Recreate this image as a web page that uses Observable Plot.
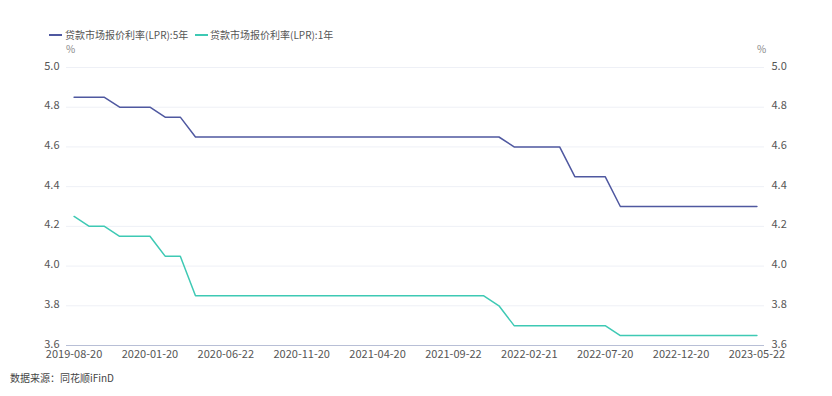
<!DOCTYPE html>
<html>
<head>
<meta charset="utf-8">
<script src="https://cdn.jsdelivr.net/npm/d3@7"></script>
<script src="https://cdn.jsdelivr.net/npm/@observablehq/plot@0.6"></script>
<style>
  html, body { margin: 0; padding: 0; background: #fff; }
  #wrap { position: relative; width: 832px; height: 396px; font-family: "Noto Sans CJK SC", "Noto Sans", sans-serif; color: #555; }
  #head { position: relative; height: 56px; }
  .leg-line { position: absolute; top: 34px; width: 13px; height: 1.5px; }
  .leg-text { position: absolute; top: 28px; font-size: 10px; line-height: 14px; color: #555; white-space: nowrap; }
  .pct { position: absolute; top: 42px; font-size: 10px; line-height: 14px; color: #888; }
  #caption { position: absolute; left: 10px; top: 371px; font-size: 10px; line-height: 14px; color: #444; }
  #chart svg { display: block; }
</style>
</head>
<body>
<div id="wrap">
  <div id="head"></div>
  <div id="chart"></div>
  <div id="caption"></div>
</div>
<script>
const dates = [
  "2019-08-20","2019-09-20","2019-10-21","2019-11-20","2019-12-20",
  "2020-01-20","2020-02-20","2020-03-20","2020-04-20","2020-05-20","2020-06-22","2020-07-20","2020-08-20","2020-09-21","2020-10-20","2020-11-20","2020-12-21",
  "2021-01-20","2021-02-20","2021-03-22","2021-04-20","2021-05-20","2021-06-21","2021-07-20","2021-08-20","2021-09-22","2021-10-20","2021-11-22","2021-12-20",
  "2022-01-20","2022-02-21","2022-03-21","2022-04-20","2022-05-20","2022-06-20","2022-07-20","2022-08-22","2022-09-20","2022-10-20","2022-11-21","2022-12-20",
  "2023-01-20","2023-02-20","2023-03-20","2023-04-20","2023-05-22"
];
const lpr5 = [
  4.85,4.85,4.85,4.80,4.80,
  4.80,4.75,4.75,4.65,4.65,4.65,4.65,4.65,4.65,4.65,4.65,4.65,
  4.65,4.65,4.65,4.65,4.65,4.65,4.65,4.65,4.65,4.65,4.65,4.65,
  4.60,4.60,4.60,4.60,4.45,4.45,4.45,4.30,4.30,4.30,4.30,4.30,
  4.30,4.30,4.30,4.30,4.30
];
const lpr1 = [
  4.25,4.20,4.20,4.15,4.15,
  4.15,4.05,4.05,3.85,3.85,3.85,3.85,3.85,3.85,3.85,3.85,3.85,
  3.85,3.85,3.85,3.85,3.85,3.85,3.85,3.85,3.85,3.85,3.85,3.80,
  3.70,3.70,3.70,3.70,3.70,3.70,3.70,3.65,3.65,3.65,3.65,3.65,
  3.65,3.65,3.65,3.65,3.65
];
const seriesNames = ["贷款市场报价利率(LPR):5年", "贷款市场报价利率(LPR):1年"];
const seriesColors = ["#4f58a0", "#3ec9b4"];
const yTicks = [3.6, 3.8, 4.0, 4.2, 4.4, 4.6, 4.8, 5.0];
const xTicks = ["2019-08-20","2020-01-20","2020-06-22","2020-11-20","2021-04-20","2021-09-22","2022-02-21","2022-07-20","2022-12-20","2023-05-22"];
const unitLabel = "%";
const sourceText = "数据来源：同花顺iFinD";

// legend & units
const headDiv = document.getElementById("head");
const legPos = [{line: 49, text: 65}, {line: 195, text: 210}];
seriesNames.forEach((name, i) => {
  const l = document.createElement("div");
  l.className = "leg-line";
  l.style.left = legPos[i].line + "px";
  l.style.background = seriesColors[i];
  headDiv.appendChild(l);
  const t = document.createElement("div");
  t.className = "leg-text";
  t.style.left = legPos[i].text + "px";
  t.textContent = name;
  headDiv.appendChild(t);
});
[66, 757].forEach(x => {
  const p = document.createElement("div");
  p.className = "pct";
  p.style.left = x + "px";
  p.textContent = unitLabel;
  headDiv.appendChild(p);
});
document.getElementById("caption").textContent = sourceText;

const rows = dates.flatMap((d, i) => [
  {idx: i, value: lpr5[i], series: seriesNames[0]},
  {idx: i, value: lpr1[i], series: seriesNames[1]}
]);
const xTickIdx = xTicks.map(d => dates.indexOf(d));

const chart = Plot.plot({
  width: 832,
  height: 309,
  marginTop: 11,
  marginBottom: 20,
  marginLeft: 66,
  marginRight: 68,
  style: {fontFamily: '"Noto Sans CJK SC", "Noto Sans", sans-serif', fontSize: "11px", color: "#555", background: "#fff"},
  x: {type: "linear", domain: [-0.5, dates.length - 0.5], axis: null},
  y: {domain: [3.6, 5.0], axis: null},
  color: {domain: seriesNames, range: seriesColors},
  marks: [
    Plot.gridY(yTicks.filter(t => t > 3.6), {stroke: "#eef0f6", strokeOpacity: 1}),
    Plot.ruleY([3.6], {stroke: "#b8bfd6", strokeWidth: 1}),
    Plot.axisY(yTicks, {anchor: "left", tickSize: 0, tickPadding: 7, dy: -1.5, tickFormat: d => d.toFixed(1), label: null, fill: "#555"}),
    Plot.axisY(yTicks, {anchor: "right", tickSize: 0, tickPadding: 7, dy: -1.5, tickFormat: d => d.toFixed(1), label: null, fill: "#555"}),
    Plot.axisX(xTickIdx, {anchor: "bottom", tickSize: 0, tickPadding: 5, tickFormat: i => dates[i], label: null, fill: "#555"}),
    Plot.line(rows, {x: "idx", y: "value", stroke: "series", strokeWidth: 1.5})
  ]
});
document.getElementById("chart").appendChild(chart);
</script>
</body>
</html>
